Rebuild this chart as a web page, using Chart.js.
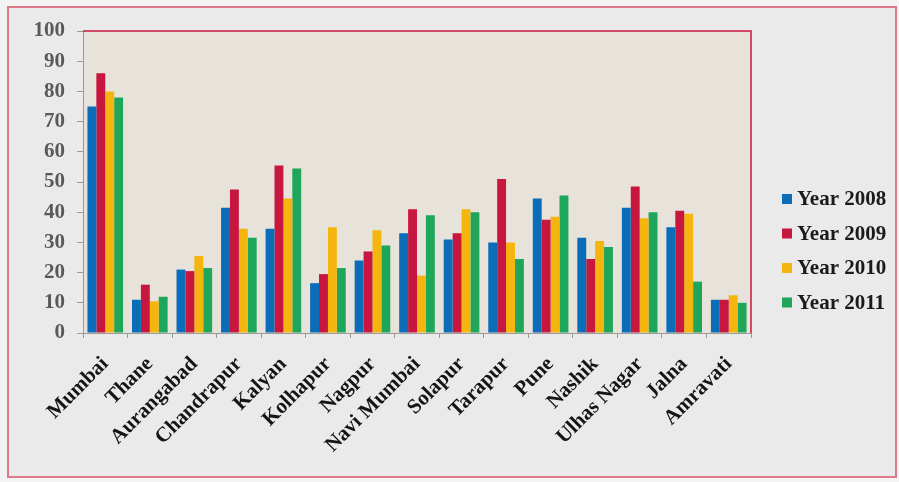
<!DOCTYPE html>
<html>
<head>
<meta charset="utf-8">
<script src="https://cdn.jsdelivr.net/npm/chart.js@4"></script>
<style>
  body { margin: 0; background: #f3f3f3; }
  #wrap { width: 899px; height: 482px; position: relative; }
</style>
</head>
<body>
<div id="wrap"><canvas id="chart"></canvas></div>
<script>
// values
const cities = ['Mumbai', 'Thane', 'Aurangabad', 'Chandrapur', 'Kalyan', 'Kolhapur', 'Nagpur',
    'Navi Mumbai', 'Solapur', 'Tarapur', 'Pune', 'Nashik', 'Ulhas Nagar', 'Jalna', 'Amravati'];
const year2008 = [75, 11, 21, 41.5, 34.5, 16.5, 24, 33, 31, 30, 44.5, 31.5, 41.5, 35, 11];
const year2009 = [86, 16, 20.5, 47.5, 55.5, 19.5, 27, 41, 33, 51, 37.5, 24.5, 48.5, 40.5, 11];
const year2010 = [80, 10.5, 25.5, 34.5, 44.5, 35, 34, 19, 41, 30, 38.5, 30.5, 38, 39.5, 12.5];
const year2011 = [78, 12, 21.5, 31.5, 54.5, 21.5, 29, 39, 40, 24.5, 45.5, 28.5, 40, 17, 10];
const yTicks = [0, 10, 20, 30, 40, 50, 60, 70, 80, 90, 100];

const seriesNames = ['Year 2008', 'Year 2009', 'Year 2010', 'Year 2011'];
const seriesColors = ['#0b6cb8', '#c8173f', '#f5b50f', '#1ea65a'];
const serif = '"Liberation Serif", "Times New Roman", serif';

// frame + plot background, red top/right edge of the plot
const framePlugin = {
    id: 'frame',
    beforeDraw(chart) {
        const ctx = chart.ctx;
        const a = chart.chartArea;
        ctx.save();
        ctx.fillStyle = '#ebeaea';
        ctx.fillRect(8, 7, 888, 470);
        ctx.strokeStyle = '#e2798a';
        ctx.lineWidth = 2;
        ctx.strokeRect(8, 7, 888, 470);
        ctx.fillStyle = '#e7e3da';
        ctx.fillRect(a.left, a.top, a.right - a.left, a.bottom - a.top);
        ctx.restore();
    },
    afterDraw(chart) {
        const ctx = chart.ctx;
        const a = chart.chartArea;
        ctx.save();
        ctx.strokeStyle = '#c8173f';
        ctx.lineWidth = 1.5;
        ctx.beginPath();
        ctx.moveTo(a.left, a.top);
        ctx.lineTo(a.right, a.top);
        ctx.lineTo(a.right, a.bottom);
        ctx.stroke();
        ctx.restore();
    }
};

// legend on the right, like the original
const sideLegend = {
    id: 'sideLegend',
    afterDraw(chart) {
        const ctx = chart.ctx;
        ctx.save();
        ctx.font = 'bold 21px ' + serif;
        ctx.textBaseline = 'middle';
        chart.data.datasets.forEach((ds, i) => {
            const y = 199 + i * 34.5;
            ctx.fillStyle = ds.backgroundColor;
            ctx.fillRect(782, y - 5, 10, 10);
            ctx.fillStyle = '#1a1a1a';
            ctx.fillText(ds.label, 797, y + 1);
        });
        ctx.restore();
    }
};

const ctx = document.getElementById('chart').getContext('2d');

new Chart(ctx, {
    type: 'bar',
    data: {
        labels: cities,
        datasets: [year2008, year2009, year2010, year2011].map((values, i) => ({
            label: seriesNames[i],
            data: values,
            backgroundColor: seriesColors[i],
            borderWidth: 0,
            barPercentage: 1.0,
            categoryPercentage: 0.8
        }))
    },
    options: {
        responsive: true,
        maintainAspectRatio: false,
        animation: false,
        layout: {
            padding: { top: 31, right: 148, left: 0, bottom: 0 }
        },
        plugins: {
            legend: { display: false },
            tooltip: { enabled: false }
        },
        scales: {
            x: {
                grid: {
                    drawOnChartArea: false,
                    drawTicks: true,
                    tickLength: 5,
                    color: '#9a9a9a'
                },
                border: { color: '#9a9a9a' },
                ticks: {
                    maxRotation: 45,
                    minRotation: 45,
                    padding: 14,
                    color: '#151515',
                    font: { family: serif, size: 21, weight: 'bold' }
                },
                afterFit: scale => { scale.height = 149; }
            },
            y: {
                min: 0,
                max: 100,
                afterBuildTicks: scale => { scale.ticks = yTicks.map(v => ({ value: v })); },
                grid: {
                    drawOnChartArea: false,
                    drawTicks: true,
                    tickLength: 6,
                    color: '#9a9a9a'
                },
                border: { color: '#9a9a9a' },
                ticks: {
                    padding: 12,
                    color: '#5a5a5a',
                    font: { family: serif, size: 21, weight: 'bold' }
                },
                afterFit: scale => { scale.width = 83; }
            }
        }
    },
    plugins: [framePlugin, sideLegend]
});
</script>
</body>
</html>
